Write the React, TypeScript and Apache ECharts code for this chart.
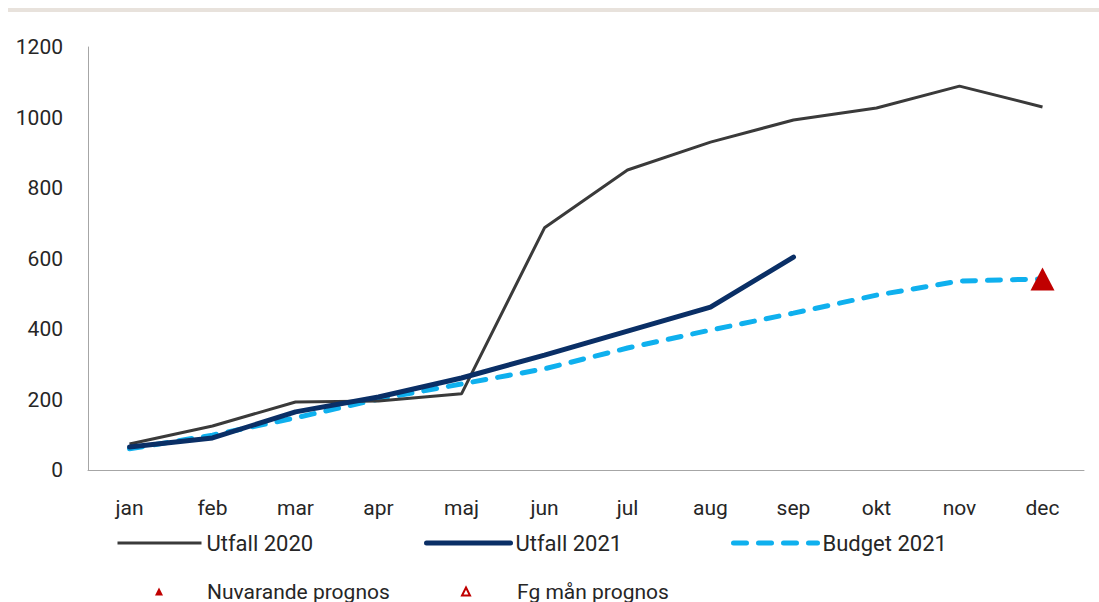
import React, { useEffect, useRef } from "react";
import * as echarts from "echarts";

const months = ["jan", "feb", "mar", "apr", "maj", "jun", "jul", "aug", "sep", "okt", "nov", "dec"];
const utfall2020 = [74, 125, 193, 196, 216, 687, 851, 930, 993, 1027, 1089, 1030];
const utfall2021 = [65, 91, 165, 207, 261, 326, 394, 462, 604, null, null, null];
const budget2021 = [60, 99, 148, 201, 244, 287, 346, 397, 445, 496, 536, 542];
const nuvarandePrognos = [null, null, null, null, null, null, null, null, null, null, null, 542];
const fgManPrognos = [null, null, null, null, null, null, null, null, null, null, null, null];
const yTicks = { min: 0, max: 1200, interval: 200 };

const FONT = "Roboto";

export default function App() {
  const ref = useRef<HTMLDivElement>(null);
  useEffect(() => {
    if (!ref.current) return;
    const chart = echarts.init(ref.current, null, { renderer: "svg" });
    const legendText = { fontFamily: FONT, fontSize: 22, color: "#262626" };
    const lineLegend = { itemWidth: 84, itemHeight: 20, textStyle: legendText, itemStyle: { opacity: 0 } };
    chart.setOption({
      animation: false,
      backgroundColor: "#ffffff",
      graphic: [
        { type: "rect", shape: { x: 8, y: 8, width: 1091, height: 4 }, style: { fill: "#e8e2dc" } },
      ],
      grid: { left: 88, right: 15, top: 47, bottom: 132 },
      xAxis: {
        type: "category",
        data: months,
        boundaryGap: true,
        axisLine: { lineStyle: { color: "#a6a6a6", width: 1 } },
        axisTick: { show: false },
        axisLabel: { fontFamily: FONT, fontSize: 21, color: "#262626", margin: 27 },
      },
      yAxis: {
        type: "value",
        min: yTicks.min,
        max: yTicks.max,
        interval: yTicks.interval,
        axisLine: { show: true, lineStyle: { color: "#a6a6a6", width: 1 } },
        axisTick: { show: false },
        splitLine: { show: false },
        axisLabel: {
          fontFamily: FONT, fontSize: 21, color: "#262626", margin: 25,
          formatter: (v: number) => String(v),
        },
      },
      legend: [
        { ...lineLegend, data: ["Utfall 2020"], left: 111, top: 527, lineStyle: { width: 3 } },
        { ...lineLegend, data: ["Utfall 2021"], left: 419, top: 527, lineStyle: { width: 5 } },
        {
          ...lineLegend, data: ["Budget 2021"], left: 726, top: 527,
          lineStyle: { width: 5, type: [13, 12], cap: "round" },
        },
        {
          data: ["Nuvarande prognos"], left: 149, top: 576, itemWidth: 10, itemHeight: 10,
          textStyle: { ...legendText, fontSize: 21, padding: [0, 0, 0, 38] },
        },
        {
          data: ["Fg mån prognos"], left: 456, top: 576, itemWidth: 10, itemHeight: 10,
          textStyle: { ...legendText, fontSize: 21, padding: [0, 0, 0, 41] },
        },
      ],
      series: [
        {
          name: "Utfall 2020", type: "line", data: utfall2020, symbol: "none",
          lineStyle: { color: "#3a3a3a", width: 3 }, itemStyle: { color: "#3a3a3a" }, z: 2,
        },
        {
          name: "Utfall 2021", type: "line", data: utfall2021, symbol: "none",
          lineStyle: { color: "#0a2f66", width: 5, cap: "round" }, itemStyle: { color: "#0a2f66" }, z: 3,
        },
        {
          name: "Budget 2021", type: "line", data: budget2021, symbol: "none",
          lineStyle: { color: "#0fb0ee", width: 5, type: [13, 12], cap: "round" },
          itemStyle: { color: "#0fb0ee" }, z: 1,
        },
        {
          name: "Nuvarande prognos", type: "line", data: nuvarandePrognos, symbol: "triangle",
          symbolSize: [24, 23], lineStyle: { width: 0 }, itemStyle: { color: "#c00000" }, z: 5,
        },
        {
          name: "Fg mån prognos", type: "line", data: fgManPrognos, symbol: "emptyTriangle",
          symbolSize: [24, 23], lineStyle: { width: 0 }, itemStyle: { color: "#c00000", borderColor: "#c00000" }, z: 4,
        },
      ],
    });
    return () => chart.dispose();
  }, []);
  return <div ref={ref} style={{ position: "absolute", left: 0, top: 0, width: 1099, height: 602 }} />;
}
